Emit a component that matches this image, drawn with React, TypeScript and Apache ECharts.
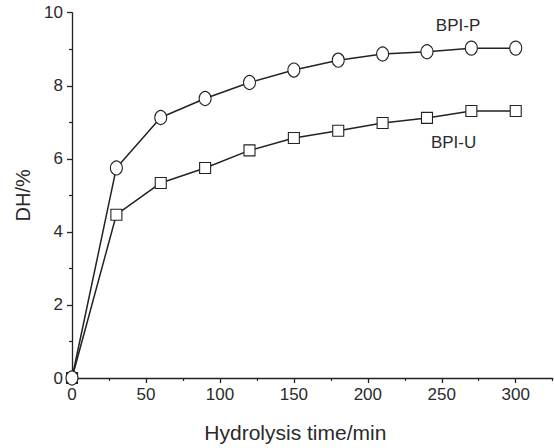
import React, { useEffect, useRef } from "react";
import * as echarts from "echarts";

const times = [0, 30, 60, 90, 120, 150, 180, 210, 240, 270, 300];
const bpiP = [0, 5.75, 7.13, 7.65, 8.09, 8.43, 8.7, 8.87, 8.93, 9.03, 9.03];
const bpiU = [0, 4.47, 5.34, 5.75, 6.23, 6.57, 6.77, 6.98, 7.12, 7.31, 7.31];
const xMajor = [0, 50, 100, 150, 200, 250, 300];
const xMinor = [25, 75, 125, 175, 225, 275, 325];
const labelP = { name: "BPI-P", coord: [261, 9.64] };
const labelU = { name: "BPI-U", coord: [258, 6.44] };

const FONT = "'Liberation Sans', Arial, sans-serif";
const INK = "#222";
const TXT = "#2a2a2a";

export default function App() {
  const ref = useRef<HTMLDivElement>(null);
  useEffect(() => {
    if (!ref.current) return;
    const chart = echarts.init(ref.current, undefined, { renderer: "svg" });
    const mk = (ys: number[]) => ys.map((y, i) => [times[i], y]);
    chart.setOption({
      animation: false,
      backgroundColor: "#fff",
      textStyle: { fontFamily: FONT },
      grid: { left: 72, top: 12.7, width: 480.7, height: 366, containLabel: false },
      xAxis: [
        {
          type: "value",
          min: 0,
          max: 325,
          position: "bottom",
          axisLine: { show: true, lineStyle: { color: INK, width: 1.3 } },
          axisTick: { show: true, customValues: xMajor, length: 5, lineStyle: { color: INK, width: 1.3 } },
          axisLabel: { customValues: xMajor, fontSize: 17, color: TXT, margin: 8, fontFamily: FONT },
          splitLine: { show: false },
          name: "Hydrolysis time/min",
          nameLocation: "middle",
          nameGap: 44,
          nameTextStyle: { fontSize: 21, color: TXT, fontFamily: FONT, padding: [0, 34, 0, 0] },
        },
        {
          type: "value",
          min: 0,
          max: 325,
          position: "bottom",
          axisLine: { show: false },
          axisTick: { show: true, customValues: xMinor, length: 3, lineStyle: { color: INK, width: 1.2 } },
          axisLabel: { show: false },
          splitLine: { show: false },
        },
      ],
      yAxis: {
        type: "value",
        min: 0,
        max: 10,
        interval: 2,
        axisLine: { show: true, lineStyle: { color: INK, width: 1.3 } },
        axisTick: { show: true, length: 5, lineStyle: { color: INK, width: 1.3 } },
        minorTick: { show: true, splitNumber: 2, length: 3, lineStyle: { color: INK, width: 1.2 } },
        axisLabel: { fontSize: 17, color: TXT, margin: 9, fontFamily: FONT },
        splitLine: { show: false },
        minorSplitLine: { show: false },
        name: "DH/%",
        nameLocation: "middle",
        nameGap: 37,
        nameRotate: 90,
        nameTextStyle: { fontSize: 20, color: TXT, fontFamily: FONT },
      },
      series: [
        {
          name: "BPI-U",
          type: "line",
          data: mk(bpiU),
          symbol: "rect",
          symbolSize: 11,
          showAllSymbol: true,
          lineStyle: { color: INK, width: 1.5 },
          itemStyle: { color: "#fff", borderColor: INK, borderWidth: 1.1 },
          z: 2,
          markPoint: {
            symbol: "circle",
            symbolSize: 0,
            data: [
              {
                name: labelU.name,
                coord: labelU.coord,
                label: { show: true, formatter: labelU.name, position: "inside", fontSize: 17, color: TXT, fontFamily: FONT },
              },
            ],
          },
        },
        {
          name: "BPI-P",
          type: "line",
          data: mk(bpiP),
          symbol: "circle",
          symbolSize: [12, 14],
          showAllSymbol: true,
          lineStyle: { color: INK, width: 1.5 },
          itemStyle: { color: "#fff", borderColor: INK, borderWidth: 1.1 },
          z: 3,
          markPoint: {
            symbol: "circle",
            symbolSize: 0,
            data: [
              {
                name: labelP.name,
                coord: labelP.coord,
                label: { show: true, formatter: labelP.name, position: "inside", fontSize: 17, color: TXT, fontFamily: FONT },
              },
            ],
          },
        },
      ],
    });
    return () => chart.dispose();
  }, []);
  return <div ref={ref} style={{ width: 554, height: 448, position: "absolute", left: 0, top: 0 }} />;
}
